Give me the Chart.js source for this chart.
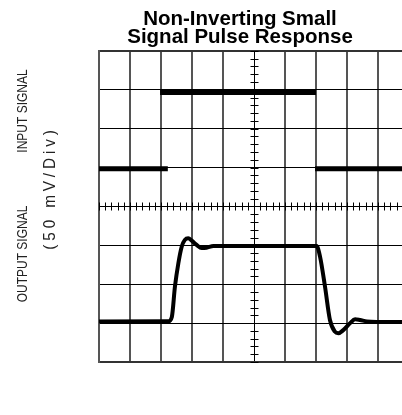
<!DOCTYPE html>
<html lang="en">
<head>
  <meta charset="UTF-8">
  <title>Non-Inverting Small Signal Pulse Response</title>
  <script src="https://cdn.jsdelivr.net/npm/chart.js"></script>
  <style>
    body {
      margin: 0;
      background: #fff;
      overflow: hidden;
    }
    .frame {
      width: 402px;
      height: 415px;
      overflow: hidden;
    }
  </style>
</head>
<body>
  <div class="frame">
    <canvas id="scope" width="480" height="415"></canvas>
  </div>

  <script>
    // Time axis in divisions (0..10), level in divisions (-4..4)
    const inputTime  = [0, 2.22, 2.1, 1.97, 7.0, 7.0, 6.97, 10];
    const inputLevel = [0.97, 0.97, null, 2.93, 2.93, null, 0.97, 0.97];

    const outputTime  = [0, 2.24, 2.35, 2.45, 2.56, 2.67, 2.77, 2.88, 2.99, 3.15, 3.31, 3.47, 3.69,
                         7.02, 7.13, 7.29, 7.45, 7.61, 7.72, 7.88, 8.1, 8.26, 8.42, 8.64, 8.96, 10];
    const outputLevel = [-2.96, -2.95, -2.84, -2.06, -1.46, -1.03, -0.86, -0.82, -0.88, -0.99, -1.07, -1.06, -1.02,
                         -1.02, -1.29, -2.06, -2.92, -3.22, -3.26, -3.18, -3.0, -2.9, -2.92, -2.96, -2.97, -2.97];

    const titleLines = ['Non-Inverting Small', 'Signal Pulse Response'];
    const sideTexts = ['INPUT SIGNAL', 'OUTPUT SIGNAL', '(50 mV/Div)'];

    const toPoints = (xs, ys) => xs.map((x, i) => ({ x: x, y: ys[i] }));

    // small tick marks on the centre cross, every 0.2 division
    const scopeTicks = {
      id: 'scopeTicks',
      beforeDatasetsDraw(chart) {
        const { ctx, scales: { x, y } } = chart;
        const x0 = Math.round(x.getPixelForValue(5)) + 0.5;
        const y0 = Math.round(y.getPixelForValue(0)) + 0.5;
        ctx.save();
        ctx.strokeStyle = '#000';
        ctx.lineWidth = 1;
        ctx.beginPath();
        for (let v = 0; v <= 10.001; v += 0.2) {
          const px = Math.round(x.getPixelForValue(v)) + 0.5;
          ctx.moveTo(px, y0 - 4);
          ctx.lineTo(px, y0 + 4);
        }
        for (let v = -4; v <= 4.001; v += 0.2) {
          const py = Math.round(y.getPixelForValue(v)) + 0.5;
          ctx.moveTo(x0 - 4, py);
          ctx.lineTo(x0 + 4, py);
        }
        ctx.stroke();
        ctx.restore();
      }
    };

    // rotated labels on the left side: [x, y, size, squeeze, spacing]
    const sideLabels = {
      id: 'sideLabels',
      afterDraw(chart) {
        const ctx = chart.ctx;
        const spots = [[23, 111, 15, 0.8, 0], [23, 254, 15, 0.8, 0], [50, 188, 17, 0.9, 4.3]];
        ctx.save();
        ctx.fillStyle = '#222';
        ctx.textAlign = 'center';
        ctx.textBaseline = 'middle';
        sideTexts.forEach((t, i) => {
          const [sx, sy, size, squeeze, spacing] = spots[i];
          ctx.save();
          ctx.font = size + 'px "Liberation Sans", Arial, sans-serif';
          ctx.translate(sx, sy);
          ctx.rotate(-Math.PI / 2);
          ctx.scale(squeeze, 1);
          ctx.letterSpacing = spacing + 'px';
          ctx.fillText(t, 0, 0);
          ctx.restore();
        });
        ctx.restore();
      }
    };

    const ctx = document.getElementById('scope').getContext('2d');

    new Chart(ctx, {
      type: 'line',
      data: {
        datasets: [
          {
            label: 'Input',
            data: toPoints(inputTime, inputLevel),
            borderColor: '#000',
            borderWidth: 5,
            borderCapStyle: 'butt',
            pointRadius: 0,
            spanGaps: false,
            tension: 0
          },
          {
            label: 'Output',
            data: toPoints(outputTime, outputLevel),
            borderColor: '#000',
            borderWidth: 4,
            pointRadius: 0,
            cubicInterpolationMode: 'monotone'
          }
        ]
      },
      options: {
        responsive: false,
        animation: false,
        layout: {
          padding: { left: 0, right: 0, top: 0, bottom: 53 }
        },
        plugins: {
          legend: { display: false },
          tooltip: { enabled: false },
          title: {
            display: true,
            text: titleLines,
            color: '#000',
            font: { family: '"Liberation Sans", Arial, sans-serif', size: 20.5, weight: 'bold', lineHeight: 0.9 },
            padding: { top: 10, bottom: 4 }
          }
        },
        scales: {
          x: {
            type: 'linear',
            min: 0,
            max: 10,
            ticks: { stepSize: 1, display: false },
            grid: {
              drawTicks: false,
              color: c => c.tick && c.tick.value === 5 ? '#000' : '#555',
              lineWidth: c => c.tick && c.tick.value === 5 ? 1 : 2
            },
            border: { color: '#333', width: 2 }
          },
          y: {
            type: 'linear',
            position: 'left',
            min: -4,
            max: 4,
            afterFit: s => { s.width = 99; },
            ticks: { stepSize: 1, display: false },
            grid: {
              drawTicks: false,
              color: c => c.tick && c.tick.value === 4 ? '#333' : '#000',
              lineWidth: c => c.tick && c.tick.value === 4 ? 2 : 1
            },
            border: { color: '#555', width: 2 }
          },
          yRight: {
            type: 'linear',
            position: 'right',
            min: -4,
            max: 4,
            afterFit: s => { s.width = 71; },
            ticks: { display: false },
            grid: { display: false, drawTicks: false },
            border: { display: false }
          }
        }
      },
      plugins: [scopeTicks, sideLabels]
    });
  </script>
</body>
</html>
